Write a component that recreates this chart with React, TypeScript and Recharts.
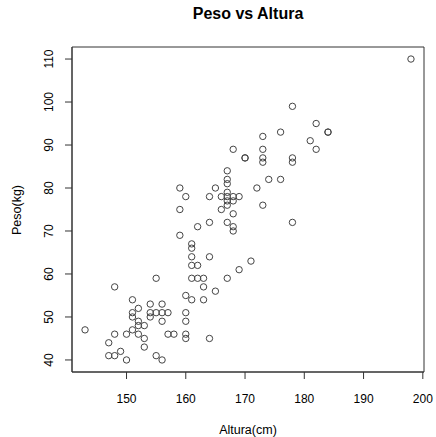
import React from 'react';
import {
  ScatterChart,
  Scatter,
  XAxis,
  YAxis,
  ReferenceArea,
  Label,
} from 'recharts';

const altura = [
  198, 178, 182, 184, 184, 176, 173, 181, 182, 168, 173, 170, 170, 173, 173, 178, 178,
  167, 167, 167, 174, 176, 159, 165, 172, 160, 164, 166, 167, 167, 168, 169, 167, 168,
  167, 173, 159, 166, 168, 164, 167, 178, 162, 168, 168, 159, 161, 161, 161, 164, 171,
  161, 162, 169, 155, 161, 162, 163, 167, 148, 163, 165, 160, 161, 163, 151, 154, 156,
  152, 151, 154, 155, 156, 157, 160, 151, 154, 152, 156, 160, 152, 153, 151, 143, 148,
  150, 152, 157, 158, 160, 160, 153, 164, 147, 153, 149, 147, 148, 155, 150, 156,
];

const peso = [
  110, 99, 95, 93, 93, 93, 92, 91, 89, 89, 89, 87, 87, 87, 86, 87, 86,
  84, 82, 81, 82, 82, 80, 80, 80, 78, 78, 78, 79, 78, 78, 78, 77, 77,
  76, 76, 75, 75, 74, 72, 72, 72, 71, 71, 70, 69, 67, 66, 64, 64, 63,
  62, 62, 61, 59, 59, 59, 59, 59, 57, 57, 56, 55, 54, 54, 54, 53, 53,
  52, 51, 51, 51, 51, 51, 51, 50, 50, 49, 49, 49, 48, 48, 47, 47, 46,
  46, 46, 46, 46, 46, 45, 45, 45, 44, 43, 42, 41, 41, 41, 40, 40,
];

const xTicks = [150, 160, 170, 180, 190, 200];
const yTicks = [40, 50, 60, 70, 80, 90, 100, 110];

const X_DOMAIN: [number, number] = [140.8, 200.2];
const Y_DOMAIN: [number, number] = [37.2, 112.8];

const FONT = "'Liberation Sans', Arial, Helvetica, sans-serif";
const INK = '#333';

const points = altura.map((a, i) => ({ altura: a, peso: peso[i] }));

const OpenCircle = (props: any) => (
  <circle cx={props.cx} cy={props.cy} r={3.2} fill="none" stroke="#444" strokeWidth={1} />
);

const YTick = (props: any) => {
  const { y, payload } = props;
  const bx = 53;
  return (
    <text
      x={bx}
      y={y}
      transform={`rotate(-90, ${bx}, ${y})`}
      textAnchor="middle"
      fontSize={12}
      fontFamily={FONT}
      fill="#000"
    >
      {payload.value}
    </text>
  );
};

const App = () => {
  return (
    <div style={{ position: 'absolute', left: 0, top: 0, width: 436, height: 437, background: '#fff' }}>
      <div
        style={{
          position: 'absolute',
          left: 72,
          width: 352,
          top: 5,
          textAlign: 'center',
          fontFamily: FONT,
          fontWeight: 'bold',
          fontSize: 16,
          color: '#000',
        }}
      >
        Peso vs Altura
      </div>
      <ScatterChart width={436} height={437} margin={{ top: 47, right: 12, bottom: 0, left: 0 }}>
        <XAxis
          type="number"
          dataKey="altura"
          domain={X_DOMAIN}
          ticks={xTicks}
          allowDataOverflow
          height={65}
          tickSize={7}
          tickMargin={15}
          stroke={INK}
          tick={{ fill: '#000', fontSize: 12, fontFamily: FONT }}
        >
          <Label
            content={() => (
              <text x={248} y={434} textAnchor="middle" fontSize={12.5} fontFamily={FONT} fill="#000">
                Altura(cm)
              </text>
            )}
          />
        </XAxis>
        <YAxis
          type="number"
          dataKey="peso"
          domain={Y_DOMAIN}
          ticks={yTicks}
          allowDataOverflow
          width={72}
          tickSize={7}
          stroke={INK}
          tick={<YTick />}
        >
          <Label
            content={() => (
              <text
                x={21}
                y={210}
                transform="rotate(-90, 21, 210)"
                textAnchor="middle"
                fontSize={12.5}
                fontFamily={FONT}
                fill="#000"
              >
                Peso(kg)
              </text>
            )}
          />
        </YAxis>
        <ReferenceArea
          x1={X_DOMAIN[0]}
          x2={X_DOMAIN[1]}
          y1={Y_DOMAIN[0]}
          y2={Y_DOMAIN[1]}
          fill="none"
          fillOpacity={0}
          stroke={INK}
          strokeWidth={1}
        />
        <Scatter data={points} shape={OpenCircle} isAnimationActive={false} />
      </ScatterChart>
    </div>
  );
};

export default App;
